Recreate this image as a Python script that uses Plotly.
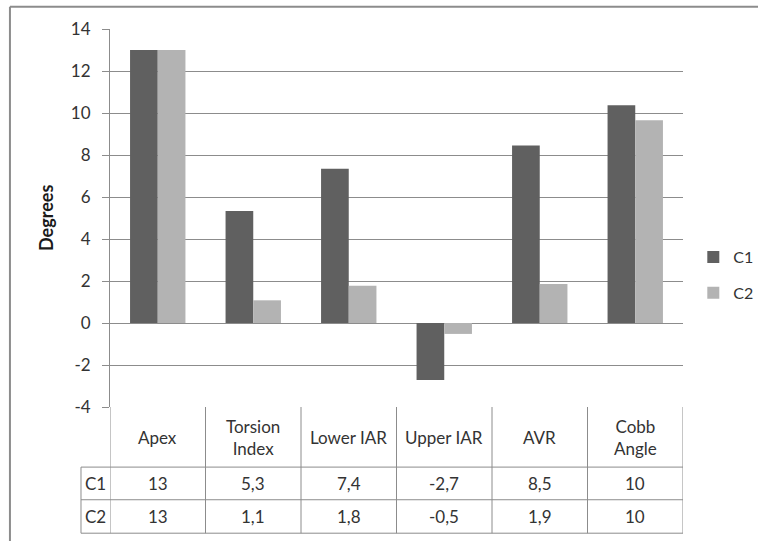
import plotly.graph_objects as go

categories = ["Apex", "Torsion Index", "Lower IAR", "Upper IAR", "AVR", "Cobb Angle"]
header_labels = ["Apex", "Torsion<br>Index", "Lower IAR", "Upper IAR", "AVR", "Cobb<br>Angle"]
c1_values = [13, 5.33, 7.35, -2.72, 8.45, 10.37]
c2_values = [13, 1.08, 1.77, -0.52, 1.86, 9.65]
c1_labels = ["13", "5,3", "7,4", "-2,7", "8,5", "10"]
c2_labels = ["13", "1,1", "1,8", "-0,5", "1,9", "10"]
y_ticks = [-4, -2, 0, 2, 4, 6, 8, 10, 12, 14]
y_tick_text = ["-4", "-2", "0", "2", "4", "6", "8", "10", "12", "14"]

W_PX, H_PX = 758, 541
L, R, T, B = 110, 682.7, 29.3, 406.7
PW, PH = R - L, B - T

def px(p):
    return (p - L) / PW

def py(p):
    return (B - p) / PH

FONT = "Lato, Calibri, 'Open Sans', sans-serif"
TXT = "#333333"
LINE = "#8c8c8c"

fig = go.Figure()
fig.add_trace(go.Bar(name="C1", x=categories, y=c1_values, marker_color="#606060",
                     marker_line_width=0, legendgroup="c1"))
fig.add_trace(go.Bar(name="C2", x=categories, y=c2_values, marker_color="#b3b3b3",
                     marker_line_width=0, legendgroup="c2"))

shapes = []
# outer chart border (left and top only visible)
shapes.append(dict(type="line", xref="paper", yref="paper", x0=px(10), x1=px(800),
                   y0=py(7), y1=py(7), line=dict(color=LINE, width=2)))
shapes.append(dict(type="line", xref="paper", yref="paper", x0=px(10), x1=px(10),
                   y0=py(7), y1=py(560), line=dict(color=LINE, width=2)))

row_bounds = [406.7, 466.7, 499.3, 532.7]
# horizontal table lines
for yb in row_bounds[1:]:
    shapes.append(dict(type="line", xref="paper", yref="paper", x0=px(81), x1=1,
                       y0=py(yb), y1=py(yb), line=dict(color=LINE, width=1)))
# vertical category separators
n = len(categories)
for i in range(n + 1):
    shapes.append(dict(type="line", xref="x", yref="paper", x0=i - 0.5, x1=i - 0.5,
                       y0=py(row_bounds[0]), y1=py(row_bounds[-1]),
                       line=dict(color=LINE, width=1)))
# left column for series names
shapes.append(dict(type="line", xref="paper", yref="paper", x0=px(81), x1=px(81),
                   y0=py(row_bounds[1]), y1=py(row_bounds[-1]),
                   line=dict(color=LINE, width=1)))

annotations = []
centers = [(row_bounds[i] + row_bounds[i + 1]) / 2 for i in range(3)]
for cat, h, a, b in zip(categories, header_labels, c1_labels, c2_labels):
    for txt, cy in ((h, centers[0]), (a, centers[1]), (b, centers[2])):
        annotations.append(dict(x=cat, xref="x", y=py(cy), yref="paper", text=txt,
                                showarrow=False, xanchor="center", yanchor="middle",
                                font=dict(family=FONT, size=17, color=TXT)))
for name, cy in (("C1", centers[1]), ("C2", centers[2])):
    annotations.append(dict(x=px(83), xref="paper", y=py(cy), yref="paper", text=name,
                            showarrow=False, xanchor="left", yanchor="middle",
                            font=dict(family=FONT, size=17, color=TXT)))
annotations.append(dict(x=px(46), xref="paper", y=py(218), yref="paper", text="<b>Degrees</b>",
                        textangle=-90, showarrow=False, xanchor="center", yanchor="middle",
                        font=dict(family=FONT, size=18, color="#1a1a1a")))

fig.update_layout(
    width=W_PX, height=H_PX,
    margin=dict(l=L, r=W_PX - R, t=T, b=H_PX - B, pad=0, autoexpand=False),
    paper_bgcolor="white", plot_bgcolor="white",
    barmode="group", bargap=0.42, bargroupgap=0,
    font=dict(family=FONT, size=16, color=TXT),
    showlegend=True,
    legend=dict(x=px(693), y=py(275), xanchor="left", yanchor="middle",
                tracegroupgap=12, font=dict(family=FONT, size=16, color=TXT),
                bgcolor="rgba(0,0,0,0)"),
    shapes=shapes, annotations=annotations,
)
fig.update_xaxes(range=[-0.5, n - 0.5], showticklabels=False, showgrid=False,
                 zeroline=False, showline=False, ticks="")
fig.update_yaxes(range=[-4, 14], tickvals=y_ticks, ticktext=y_tick_text,
                 showgrid=True, gridcolor=LINE,
                 gridwidth=1, zeroline=True, zerolinecolor=LINE, zerolinewidth=1,
                 showline=True, linecolor=LINE, linewidth=1, ticks="outside",
                 ticklen=7, tickcolor=LINE, ticklabelstandoff=8,
                 tickfont=dict(family=FONT, size=17, color=TXT))

fig.write_html("out.html", config={"displayModeBar": False},
               post_script="document.body.style.margin='0';")
